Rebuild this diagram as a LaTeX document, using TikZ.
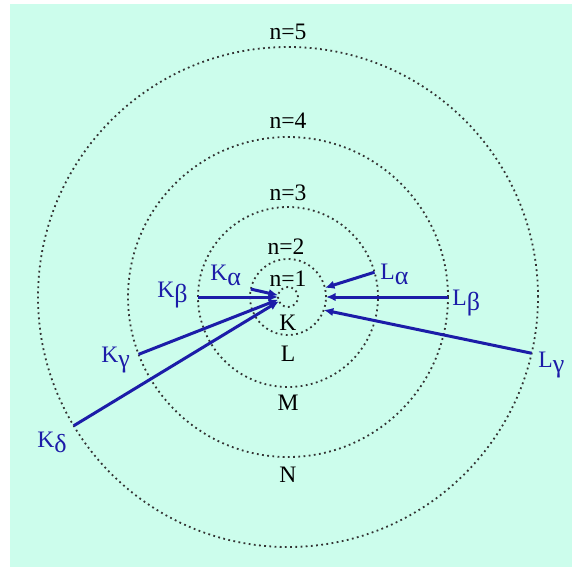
\documentclass[tikz,border=0pt]{standalone}
\usepackage{fontspec}
\setmainfont{Liberation Serif}
\usepackage{tikz}
\usetikzlibrary{arrows.meta}
\definecolor{mint}{HTML}{CCFDEC}
\definecolor{ray}{HTML}{1C1CA8}
\definecolor{shellink}{HTML}{333333}
\newcommand\lowgreek[1]{\raisebox{-0.22em}{\fontsize{13}{15}\selectfont #1}}
\tikzset{
  shell/.style   = {circle, draw=shellink, line width=0.9pt,
                    dash pattern=on 0.9pt off 1.7pt, inner sep=0pt, outer sep=0pt},
  lvl/.style     = {font=\fontsize{11.8}{14}\selectfont, text=black,
                    inner sep=0pt, anchor=base},
  linename/.style= {font=\fontsize{11.8}{14}\selectfont, text=ray,
                    inner sep=0pt, anchor=base west},
  ar/.style      = {-{Latex[length=4.8pt,width=4.2pt]}, line width=1.5pt, draw=ray},
}

\begin{document}
\begin{tikzpicture}[x=0.5pt, y=-0.5pt]

  \useasboundingbox (0,0) rectangle (572,567);
  \fill[mint] (10,4) rectangle (572,567);

  \coordinate (c) at (288,297);
  \node[shell, minimum size=250pt] (n5) at (c) {};
  \node[shell, minimum size=160pt] (n4) at (c) {};
  \node[shell, minimum size=90pt]  (n3) at (c) {};
  \node[shell, minimum size=38pt]  (n2) at (c) {};
  \node[shell, minimum size=10pt]  (n1) at (c) {};

  \node[lvl] (t5) at (288,40)  {n=5};
  \node[lvl] (t4) at (288,128) {n=4};
  \node[lvl] (t3) at (288,200) {n=3};
  \node[lvl] (t2) at (286,254) {n=2};
  \node[lvl] (t1) at (288,286) {n=1};
  \node[lvl] (sk) at (288,330) {K};
  \node[lvl] (sl) at (288,361) {L};
  \node[lvl] (sm) at (288,410) {M};
  \node[lvl] (sn) at (288,482) {N};

  \draw[ar] (n2.168) -- (n1.170);
  \draw[ar] (n3.180) -- (n1.180);
  \draw[ar] (n4.201) -- (n1.195);
  \draw[ar] (n5.211) -- (n1.205);

  \draw[ar] (n3.16)  -- (n2.14);
  \draw[ar] (n4.0)   -- (n2.0);
  \draw[ar] (n5.-13) -- (n2.-20);

  \node[linename] (ka) at (210,280) {K\lowgreek{α}};
  \node[linename] (kb) at (157,297) {K\lowgreek{β}};
  \node[linename] (kg) at (101,362) {K\lowgreek{γ}};
  \node[linename] (kd) at (37,447)  {K\lowgreek{δ}};
  \node[linename] (la) at (380,279) {L\lowgreek{α}};
  \node[linename] (lb) at (452,305) {L\lowgreek{β}};
  \node[linename] (lg) at (538,367) {L\lowgreek{γ}};

\end{tikzpicture}
\end{document}
